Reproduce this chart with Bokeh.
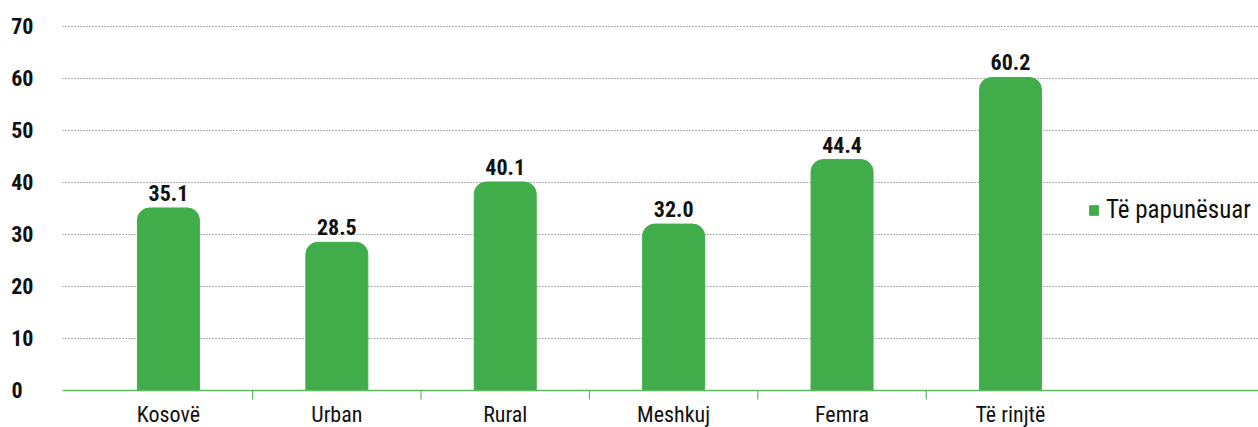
from bokeh.plotting import figure
from bokeh.models import ColumnDataSource, FixedTicker, Legend, LegendItem, Span
from bokeh.embed import file_html
from bokeh.resources import INLINE
from bokeh.core.properties import value

categories = ["Kosovë", "Urban", "Rural", "Meshkuj", "Femra", "Të rinjtë"]
values = [35.1, 28.5, 40.1, 32.0, 44.4, 60.2]
y_ticks = [0, 10, 20, 30, 40, 50, 60, 70]
series_name = "Të papunësuar"

GREEN = "#41AD4A"
AXIS_GREEN = "#5CBB62"
FONT = "Roboto Condensed"

W, H = 1258, 427
Y_MIN, Y_MAX = -7.115, 75.0
PX_PER_UNIT = H / (Y_MAX - Y_MIN)
TICK_LEN = 9 / PX_PER_UNIT

xs = list(range(len(categories)))
src = ColumnDataSource(dict(
    x=xs, top=values, label=[f"{v:.1f}" for v in values], cat=categories,
    base=[0] * len(categories)))

bounds = [i + 0.5 for i in range(len(categories) - 1)]
tick_src = ColumnDataSource(dict(x=bounds, y0=[0] * len(bounds), y1=[-TICK_LEN] * len(bounds)))

p = figure(width=W, height=H, output_backend="svg", toolbar_location=None,
           x_range=(-0.629, 6.473), y_range=(Y_MIN, Y_MAX),
           min_border_left=62, min_border_right=0, min_border_top=0, min_border_bottom=0)
p.outline_line_color = None
p.background_fill_color = "white"

p.xgrid.grid_line_color = None
p.ygrid.ticker = FixedTicker(ticks=y_ticks[1:])
p.ygrid.grid_line_color = "#666666"
p.ygrid.grid_line_dash = "1 2"
p.ygrid.grid_line_width = 1

r = p.vbar(x="x", top="top", width=0.368, source=src, color=GREEN,
           border_radius=(12, 12, 0, 0))

# category axis line and separators
p.add_layout(Span(location=0, dimension="width", line_color=AXIS_GREEN, line_width=1.6))
p.segment(x0="x", x1="x", y0="y0", y1="y1", source=tick_src,
          line_color=AXIS_GREEN, line_width=1.2)

# value labels above the bars
p.text(x="x", y="top", text="label", source=src, text_align="center",
       text_baseline="bottom", y_offset=-7, text_font=value(FONT),
       text_font_size="22px", text_font_style="bold", text_color="#111111")

# category labels below the axis line
p.text(x="x", y="base", text="cat", source=src, text_align="center",
       text_baseline="top", y_offset=11, text_font=value(FONT),
       text_font_size="22px", text_color="#111111")

# y axis
p.xaxis.visible = False
p.yaxis.ticker = FixedTicker(ticks=y_ticks)
p.yaxis.major_label_overrides = {0: "0\u2007"}
p.yaxis.axis_line_color = None
p.yaxis.major_tick_line_color = None
p.yaxis.minor_tick_line_color = None
p.yaxis.major_tick_out = 0
p.yaxis.major_tick_in = 0
p.yaxis.minor_tick_out = 0
p.yaxis.minor_tick_in = 0
p.yaxis.major_label_standoff = 29
p.yaxis.major_label_text_font = FONT
p.yaxis.major_label_text_font_size = "22px"
p.yaxis.major_label_text_font_style = "bold"
p.yaxis.major_label_text_color = "#111111"

legend = Legend(items=[LegendItem(label=series_name, renderers=[r])],
                location=(1026, 203), padding=2, margin=0, spacing=0,
                glyph_width=11, glyph_height=12, label_standoff=7,
                label_text_font=FONT, label_text_font_size="25px",
                label_text_color="#111111", border_line_color=None,
                background_fill_alpha=0)
p.add_layout(legend)

open("out.html", "w").write(file_html(p, INLINE))
